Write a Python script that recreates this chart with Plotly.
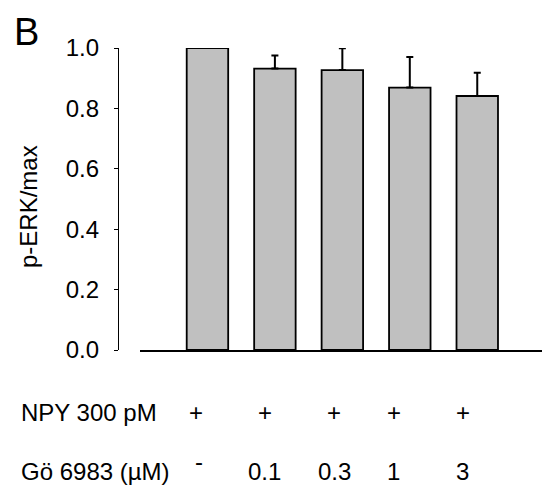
import plotly.graph_objects as go

categories = ["c1", "c2", "c3", "c4", "c5"]
values = [1.0, 0.932, 0.927, 0.869, 0.841]
errors = [None, 0.043, 0.072, 0.101, 0.077]
npy_labels = ["+", "+", "+", "+", "+"]
go_labels = ["-", "0.1", "0.3", "1", "3"]
ytick_vals = [0.0, 0.2, 0.4, 0.6, 0.8, 1.0]

W, H = 542, 492
TOP, BOT = 48, 350          # pixel rows of y=1.0 and y=0.0
FONT = "Liberation Sans, Arial, sans-serif"

fig = go.Figure()
fig.add_trace(go.Bar(
    x=list(range(len(categories))),
    y=values,
    width=0.615,
    marker=dict(color="#c0c0c0", line=dict(color="black", width=1.8)),
    error_y=dict(type="data", symmetric=False, array=errors,
                 arrayminus=[0] * len(values), color="black",
                 thickness=2, width=3.5),
    cliponaxis=False,
    showlegend=False,
))

annotations = []
# panel letter
annotations.append(dict(text="B", xref="paper", yref="paper", x=12 / W,
                        y=(BOT - 32.5) / (BOT - TOP), xanchor="left", yanchor="middle",
                        showarrow=False, font=dict(family=FONT, size=38, color="black")))
# y-axis title
annotations.append(dict(text="p-ERK/max", xref="paper", yref="paper", x=28 / W,
                        y=(BOT - 207) / (BOT - TOP), textangle=-90,
                        xanchor="center", yanchor="middle", showarrow=False,
                        font=dict(family=FONT, size=24, color="black")))
# row labels
row_y = {"npy": (BOT - 412) / (BOT - TOP), "go": (BOT - 471) / (BOT - TOP)}
annotations.append(dict(text="NPY 300 pM", xref="paper", yref="paper", x=19 / W,
                        y=row_y["npy"], xanchor="left", yanchor="middle", showarrow=False,
                        font=dict(family=FONT, size=24, color="black")))
annotations.append(dict(text="Gö 6983 (µM)", xref="paper", yref="paper", x=19 / W,
                        y=row_y["go"], xanchor="left", yanchor="middle", showarrow=False,
                        font=dict(family=FONT, size=24, color="black")))
npy_shift = [-11, -10, -8, -16, -14]
go_shift = [-8, -10, -8, -16, -15]
for i, lab in enumerate(npy_labels):
    annotations.append(dict(text=lab, xref="x", yref="paper", x=i, y=row_y["npy"],
                            xshift=npy_shift[i], xanchor="center", yanchor="middle",
                            showarrow=False, font=dict(family=FONT, size=24, color="black")))
for i, lab in enumerate(go_labels):
    annotations.append(dict(text=lab, xref="x", yref="paper", x=i, y=row_y["go"],
                            xshift=go_shift[i], yshift=10 if lab == "-" else 0,
                            xanchor="center", yanchor="middle",
                            showarrow=False, font=dict(family=FONT, size=24, color="black")))

fig.update_layout(
    width=W, height=H,
    margin=dict(l=0, r=0, t=TOP, b=H - BOT, pad=0),
    plot_bgcolor="white", paper_bgcolor="white",
    annotations=annotations,
    xaxis=dict(domain=[140 / W, 1], range=[-1.0, 4.96], showline=True,
               linecolor="black", linewidth=1.6, showticklabels=False,
               ticks="", showgrid=False, zeroline=False, fixedrange=True),
    yaxis=dict(range=[0, 1], anchor="free", position=118 / W, showline=True,
               linecolor="black", linewidth=1.4, ticks="outside", ticklen=4,
               tickwidth=1.4, tickcolor="black", tickvals=ytick_vals,
               tickformat=".1f", ticklabelstandoff=10, showgrid=False,
               zeroline=False,
               tickfont=dict(family=FONT, size=24, color="black")),
)

fig.write_html("out.html")
